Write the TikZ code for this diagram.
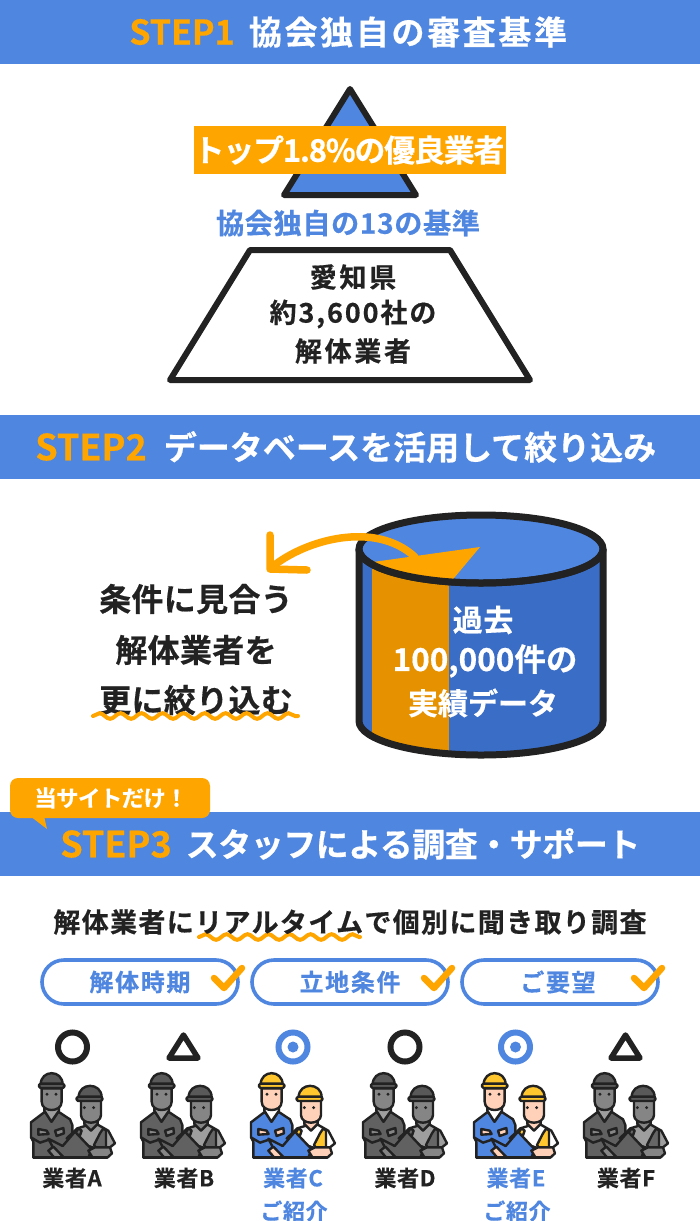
\documentclass[tikz,border=0pt]{standalone}
\usepackage{fontspec}
\setmainfont{Noto Sans CJK JP}[BoldFont={Noto Sans CJK JP Bold}]
\usetikzlibrary{decorations.pathmorphing}
\definecolor{bannerblue}{HTML}{4F86E0}
\definecolor{sideblue}{HTML}{3A6DC5}
\definecolor{accent}{HTML}{FFA500}
\definecolor{sideorange}{HTML}{E69200}
\definecolor{ink}{HTML}{222222}
\definecolor{peachskin}{HTML}{FFD1B8}
\definecolor{hardhat}{HTML}{FFC62E}
\newcommand{\tx}[3]{\bfseries\fontsize{#1}{#1}\selectfont\addfontfeature{LetterSpace=#2,FakeBold=0.5}#3}
\tikzset{
  banner/.style={fill=bannerblue,draw=none},
  lab/.style={inner sep=0pt,outer sep=0pt,anchor=center,text=ink},
  white lab/.style={lab,text=white},
  blue lab/.style={lab,text=bannerblue},
  orange lab/.style={lab,text=accent},
  heavy/.style={draw=ink,line width=6pt,line join=round},
  pill/.style={draw=bannerblue,line width=3.6pt,fill=white,rounded corners=22pt},
  tick/.style={draw=accent,line width=6.5pt,line join=round,line cap=round},
  wavy/.style={draw=accent,line width=4pt,line cap=round,decorate,decoration={snake,segment length=21pt,amplitude=2.8pt}},
  ic/.style={draw=ink,line width=2.4pt,line join=round},
}
% worker icon: #1 x offset, #2 cloth, #3 skin, #4 helmet, #5 vest, #6 shirt
\newcommand{\workericon}[6]{%
\begin{scope}[shift={(#1,1060)},x=0.3333pt,y=-0.3333pt]
 % left person
 \path[ic,fill=#2] (40,293)--(40,245)--(33,232)--(33,187)--(75,155)--(95,185)--(115,155)--(150,178)--(157,195)--(157,235)--(135,255)--(215,293)--cycle;
 \path[ic,fill=#6] (73,152)--(94,185)--(117,152)--(117,135)--(73,135)--cycle;
 \path[ic,fill=#3] (65,85)--(65,125) .. controls (65,142) and (80,150) .. (95,150) .. controls (110,150) and (125,142) .. (125,125)--(125,85)--cycle;
 \path[ic,fill=#4] (62,74) .. controls (62,28) and (128,28) .. (128,74)--cycle;
 \path[ic,fill=#4,rounded corners=1.5pt] (57,71) rectangle (133,84);
 \fill[ink] (81,103) circle (1.6pt) (108,103) circle (1.6pt);
 \path[ic,fill=#3] (55,207)--(80,212)--(86,222)--(55,224)--cycle;
 \path[ic,fill=#3] (105,212)--(130,204)--(132,220)--(110,228)--cycle;
 \path[ic] (33,232)--(60,248)--(84,240);
 % right person
 \path[ic,fill=#6] (140,235)--(172,205)--(205,195)--(235,195)--(265,212)--(285,250)--(270,262)--(240,270)--cycle;
 \path[ic,fill=#5] (160,226)--(176,205)--(185,212)--(178,232)--cycle;
 \path[ic,fill=#5] (222,255)--(240,220)--(250,205)--(258,212)--(258,262)--(240,280)--cycle;
 \path[ic,fill=#3] (193,170)--(193,192)--(213,212)--(233,192)--(233,170)--cycle;
 \path[ic,fill=#3] (183,122)--(183,165) .. controls (183,180) and (198,188) .. (213,188) .. controls (228,188) and (243,180) .. (243,165)--(243,122)--cycle;
 \path[ic,fill=#4] (176,112) .. controls (176,66) and (245,66) .. (245,112)--cycle;
 \path[ic,fill=#4,rounded corners=1.5pt] (170,110) rectangle (247,123);
 \fill[ink] (193,143) circle (1.6pt) (221,143) circle (1.6pt);
 % plan
 \path[ic,fill=#2] (85,236)--(128,258)--(165,215)--(215,268)--(205,293)--(115,293)--cycle;
 \path[ic,fill=#3] (85,272)--(100,260)--(132,293)--(103,293)--cycle;
 \path[ic,fill=#3] (205,272)--(225,262)--(270,262)--(276,280)--(262,293)--(218,293)--cycle;
 \path[ic] (40,293)--(262,293);
\end{scope}}
\newcommand{\greyworker}[1]{\workericon{#1}{black!62}{black!48}{black!65}{black!60}{black!38}}
\newcommand{\colorworker}[1]{\workericon{#1}{bannerblue}{peachskin}{hardhat}{hardhat}{white}}
\begin{document}
\begin{tikzpicture}[x=1pt,y=-1pt]
\useasboundingbox (0,0) rectangle (700,1221);
\fill[white] (0,0) rectangle (700,1221);
% banners
\fill[banner] (0,0) rectangle (700,64);
\fill[banner] (0,415) rectangle (700,479);
\fill[banner] (0,812) rectangle (700,876);
\node[orange lab] (s1) at (182,32) {\tx{34}{0}{STEP1}};
\node[white lab] (t1) at (408,32) {\tx{33}{8}{協会独自の審査基準}};
\node[orange lab] (s2) at (91,447) {\tx{36}{0}{STEP2}};
\node[white lab] (t2) at (410,447) {\tx{33}{0}{データベースを活用して絞り込み}};
\node[orange lab] (s3) at (116,844) {\tx{36}{0}{STEP3}};
\node[white lab] (t3) at (413,844) {\tx{33}{-1.5}{スタッフによる調査・サポート}};
% pyramid
\draw[heavy,fill=bannerblue] (350,89)--(416,195)--(284,195)--cycle;
\node[fill=accent,minimum width=312pt,minimum height=48pt,inner sep=0pt] (top) at (350,150) {};
\node[white lab] (toptx) at (349,150) {\tx{31}{-4}{トップ1.8\%の優良業者}};
\node[blue lab] (crit) at (348,223) {\tx{28.2}{2}{協会独自の13の基準}};
\draw[heavy,fill=white] (250,250)--(450,250)--(530,380)--(170,380)--cycle;
\node[lab] (b1) at (353,277) {\tx{27}{10}{愛知県}};
\node[lab] (b2) at (353,314) {\tx{27}{7}{約3,600社の}};
\node[lab] (b3) at (353,351) {\tx{27}{10}{解体業者}};
% cylinder
\path[fill=sideblue] (359,549) -- (359,721) arc[start angle=180,end angle=0,x radius=122,y radius=34] -- (603,549) -- cycle;
\begin{scope}
\clip (359,549) -- (359,721) arc[start angle=180,end angle=0,x radius=122,y radius=34] -- (603,549) -- cycle;
\fill[sideorange] (372,540) rectangle (449,770);
\end{scope}
\draw[draw=ink,line width=7pt] (359,549) -- (359,721) arc[start angle=180,end angle=0,x radius=122,y radius=34] -- (603,549);
\draw[draw=ink,line width=7pt,fill=bannerblue] (481,549) ellipse[x radius=122,y radius=34];
\begin{scope}
\clip (481,549) ellipse[x radius=122,y radius=34];
\fill[accent] (373,562) -- (480,547) -- (449,584) -- (373,584) -- cycle;
\end{scope}
\draw[draw=ink,line width=7pt] (359,549) arc[start angle=180,end angle=0,x radius=122,y radius=34];
\coordinate (cv0) at (272,567);
\coordinate (cv1) at (415,557);
\draw[draw=accent,line width=7.5pt,line cap=round] (cv0) .. controls (305,540) and (375,520) .. (cv1);
\coordinate (h1) at (270,535);
\coordinate (h2) at (307,570);
\draw[draw=accent,line width=7.5pt,line cap=round,line join=round] (h1) -- (270,569) -- (h2);
\node[white lab] (c1) at (483,620) {\tx{30}{2}{過去}};
\node[white lab] (c2) at (485,661) {\tx{31.5}{0}{100,000件の}};
\node[white lab] (c3) at (483,703) {\tx{30}{0}{実績データ}};
% left text
\node[lab] (l1) at (196,599) {\tx{32}{1}{条件に見合う}};
\node[lab] (l2) at (196,650) {\tx{32}{1}{解体業者を}};
\node[lab] (l3) at (196,700) {\tx{32}{1}{更に絞り込む}};
\coordinate (w1a) at (93,716);
\coordinate (w1b) at (298,716);
\draw[wavy] (w1a) -- (w1b);
% callout
\fill[accent,rounded corners=8pt] (10,778) rectangle (210,818);
\fill[accent] (30,816) -- (47,829) -- (44,816) -- cycle;
\node[white lab] (co) at (111,798) {\tx{22.5}{-3}{当サイトだけ！}};
% step 3
\coordinate (w2a) at (199,937);
\coordinate (w2b) at (360,937);
\draw[wavy] (w2a) -- (w2b);
\node[lab] (sub) at (350,922) {\tx{27}{5}{解体業者にリアルタイムで個別に聞き取り調査}};
\draw[pill] (42,960) rectangle (238,1004);
\draw[pill] (252,960) rectangle (448,1004);
\draw[pill] (462,960) rectangle (658,1004);
\node[blue lab] (p1) at (140,982) {\tx{24}{7}{解体時期}};
\node[blue lab] (p2) at (350,982) {\tx{24}{7}{立地条件}};
\node[blue lab] (p3) at (558,982) {\tx{24}{7}{ご要望}};
\draw[tick] (214,978)--(224,988)--(242,968);
\draw[tick] (424,978)--(434,988)--(452,968);
\draw[tick] (634,978)--(644,988)--(662,968);
% marks
\draw[ink,line width=6pt] (72.5,1047) circle (14.5);
\draw[ink,line width=6pt] (405,1047) circle (14.5);
\draw[ink,line width=5.5pt,line join=round] (183.5,1035)--(198,1058)--(169,1058)--cycle;
\draw[ink,line width=5.5pt,line join=round] (625.5,1035)--(640,1058)--(611,1058)--cycle;
\draw[bannerblue,line width=6pt] (293,1047) circle (14.5);
\fill[bannerblue] (293,1047) circle (5.5);
\draw[bannerblue,line width=6pt] (515.5,1047) circle (14.5);
\fill[bannerblue] (515.5,1047) circle (5.5);
% workers
\greyworker{20}
\greyworker{130}
\colorworker{240}
\greyworker{352}
\colorworker{463}
\greyworker{573}
% labels
\node[lab] (a) at (72,1178) {\tx{22}{3}{業者A}};
\node[lab] (b) at (184,1178) {\tx{22}{3}{業者B}};
\node[blue lab] (c) at (293,1178) {\tx{22}{3}{業者C}};
\node[blue lab] (cc) at (294,1211) {\tx{22}{3}{ご紹介}};
\node[lab] (d) at (405,1178) {\tx{22}{3}{業者D}};
\node[blue lab] (e) at (516,1178) {\tx{22}{3}{業者E}};
\node[blue lab] (ee) at (517,1211) {\tx{22}{3}{ご紹介}};
\node[lab] (f) at (626,1178) {\tx{22}{3}{業者F}};
\end{tikzpicture}
\end{document}
